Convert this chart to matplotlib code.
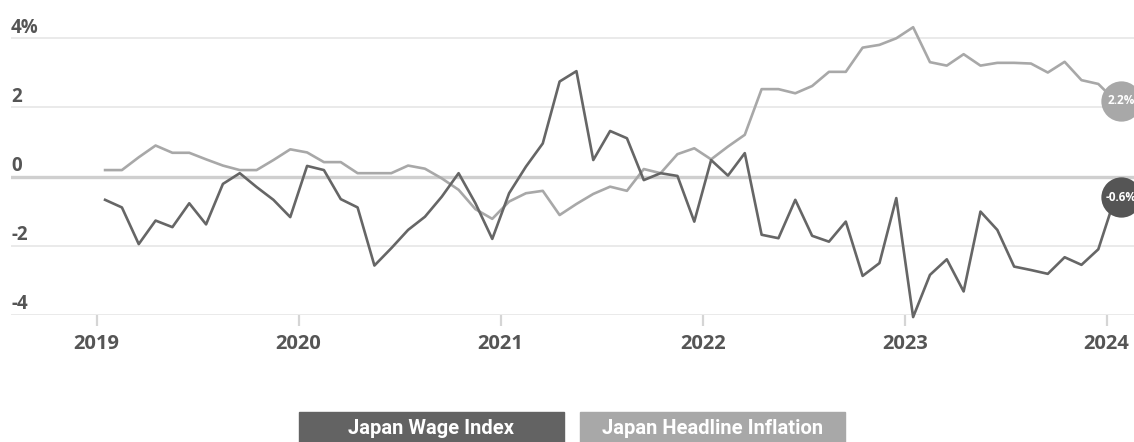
import matplotlib.pyplot as plt
from matplotlib.patches import Rectangle
import matplotlib.transforms as mtransforms
import numpy as np

# monthly values, Jan 2019 .. Jan 2024 (year-on-year %)
wage_index = [
    -0.67, -0.89, -1.95, -1.27, -1.46, -0.77, -1.38, -0.21, 0.10, -0.30, -0.67, -1.17,
    0.31, 0.19, -0.65, -0.89, -2.57, -2.07, -1.54, -1.16, -0.58, 0.10, -0.77, -1.80,
    -0.48, 0.29, 0.96, 2.75, 3.05, 0.48, 1.32, 1.11, -0.10, 0.10, 0.02, -1.30,
    0.48, 0.03, 0.68, -1.68, -1.78, -0.67, -1.71, -1.88, -1.30, -2.87, -2.50, -0.62,
    -4.06, -2.84, -2.39, -3.32, -1.01, -1.54, -2.60, -2.70, -2.81, -2.33, -2.55, -2.10,
    -0.60,
]
headline_inflation = [
    0.19, 0.19, 0.56, 0.90, 0.69, 0.69, 0.50, 0.32, 0.19, 0.19, 0.48, 0.79,
    0.70, 0.42, 0.42, 0.10, 0.10, 0.10, 0.32, 0.23, -0.05, -0.38, -0.94, -1.22,
    -0.72, -0.48, -0.41, -1.11, -0.79, -0.50, -0.29, -0.41, 0.22, 0.10, 0.65, 0.82,
    0.50, 0.87, 1.21, 2.53, 2.53, 2.41, 2.62, 3.03, 3.03, 3.73, 3.81, 4.00,
    4.32, 3.31, 3.21, 3.54, 3.21, 3.29, 3.29, 3.27, 3.01, 3.32, 2.79, 2.68,
    2.20,
]
years = [2019, 2020, 2021, 2022, 2023, 2024]
y_ticks = [4, 2, 0, -2, -4]
y_labels = ['4%', '2', '0', '-2', '-4']
series_names = ['Japan Wage Index', 'Japan Headline Inflation']

WAGE_C = '#666666'
INFL_C = '#a8a8a8'
TEXT_C = '#555555'
NUM_FONT = 'Open Sans'

x = 2019 + (np.arange(len(wage_index)) + 0.5) / 12

W, H = 1134, 442
fig = plt.figure(figsize=(W / 100, H / 100), dpi=100)
ax = fig.add_axes([11 / W, (H - 315) / H, (W - 11) / W, 315 / H])
ax.set_xlim(2018.576, 2024.135)
ax.set_ylim(-4, 5.107)

for s in ax.spines.values():
    s.set_visible(False)

# grid lines
for v in y_ticks:
    if v == 0:
        ax.axhline(v, color='#cfcfcf', lw=2.4, zorder=1)
    else:
        ax.axhline(v, color='#e6e6e6', lw=1.2, zorder=1)

trans = mtransforms.blended_transform_factory(ax.transAxes, ax.transData)
for v, lab in zip(y_ticks, y_labels):
    ax.annotate(lab, xy=(0, v), xycoords=trans, xytext=(0, 4), textcoords='offset points',
                ha='left', va='baseline', fontsize=13.5, fontweight='bold',
                color=TEXT_C, family=NUM_FONT)

ax.set_yticks([])
ax.set_xticks(years)
ax.set_xticklabels([str(y) for y in years])
ax.tick_params(axis='x', length=8, width=1.6, color='#d5d5d5', pad=6,
               labelsize=14.5, labelcolor=TEXT_C)
for t in ax.get_xticklabels():
    t.set_fontweight('bold')
    t.set_family(NUM_FONT)

ax.plot(x, headline_inflation, color=INFL_C, lw=1.9, zorder=3, clip_on=False)
ax.plot(x, wage_index, color=WAGE_C, lw=1.9, zorder=4, clip_on=False)

# end-of-series bubbles
for vals, c in [(headline_inflation, INFL_C), (wage_index, '#555555')]:
    ax.plot(x[-1] + 0.03, vals[-1], 'o', ms=29, color=c, mec='none', zorder=5, clip_on=False)
    ax.text(x[-1] + 0.03, vals[-1], f'{vals[-1]:.1f}%', ha='center', va='center',
            fontsize=8.5, fontweight='bold', color='white', zorder=6, family=NUM_FONT)

# legend boxes
for (x0, x1), name, c in zip([(299, 564), (580, 845)], series_names, ['#636363', INFL_C]):
    fig.patches.append(Rectangle((x0 / W, 0), (x1 - x0) / W, 30 / H,
                                 transform=fig.transFigure, color=c))
    fig.text((x0 + x1) / 2 / W, 14 / H, name, ha='center', va='center',
             fontsize=14.5, fontweight='bold', color='white', family='Roboto')

fig.savefig('out.png', dpi=100)
